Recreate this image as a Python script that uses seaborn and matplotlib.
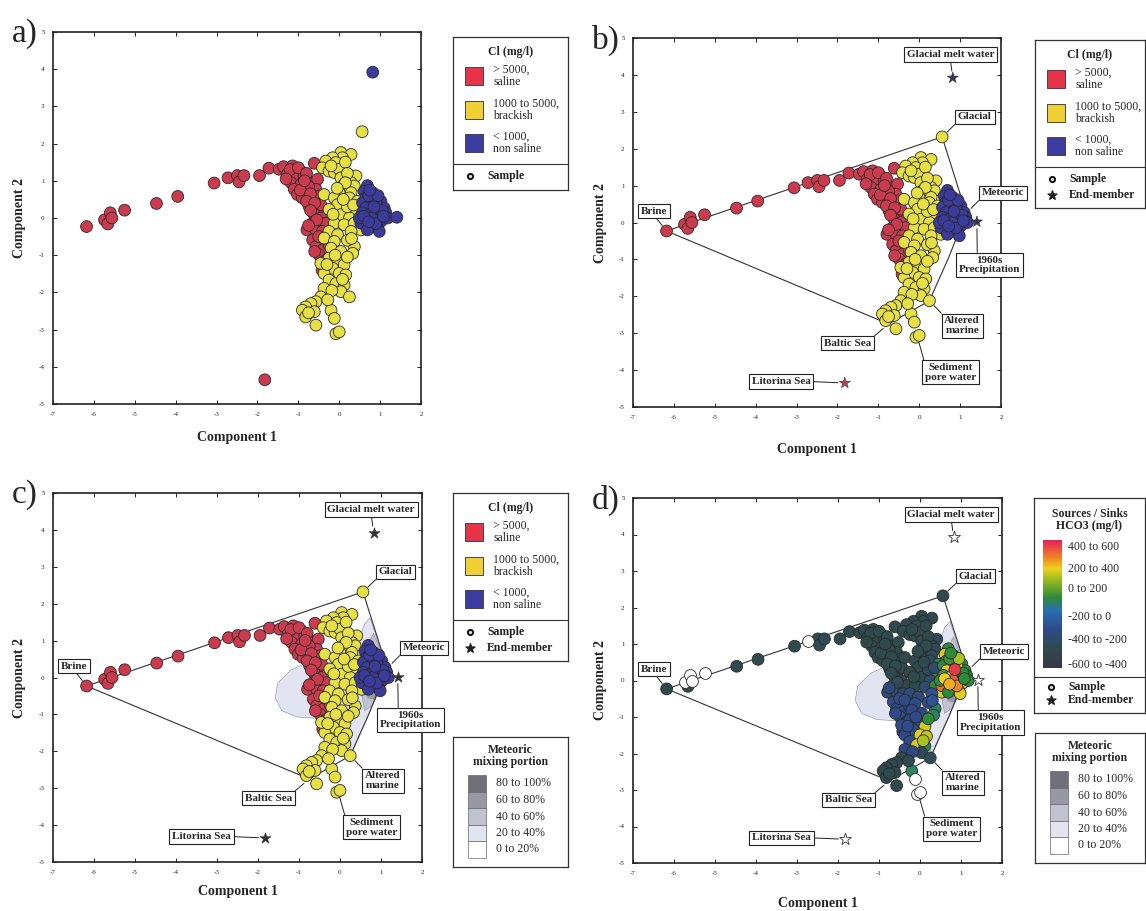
import matplotlib
matplotlib.use("Agg")
import matplotlib.pyplot as plt
import numpy as np
import pandas as pd
import seaborn as sns
from matplotlib.colors import LinearSegmentedColormap
from matplotlib.patches import Rectangle

nan = np.nan

# --- samples, Cl > 5000 (saline) ---
red_x = [-6.18, -5.74, -5.60, -5.66, -5.56, -5.25, -4.47, -3.95, -3.06, -2.72, -2.49, -2.45, -2.33, -1.95, -1.72, -0.61,
         -1.47, -1.36, -1.14, -0.94, -1.27, -1.06, -0.86, -1.18, -0.94, -0.69, -0.53, -1.10, -0.82, -0.57, -1.02, -0.90,
         -0.65, -0.49, -0.74, -0.53, -0.45, -0.61, -0.45, -0.65, -0.33, -0.79, -0.57, -0.41, -0.65, -0.45, -0.57, -0.41,
         -0.49, -0.33, -0.42, -0.25,
         -1.20, -1.00, -0.80, -1.30, -0.75, -0.95, -0.70, -0.80, -0.60, -0.70, -0.55, -0.75, -0.50, -0.60, -0.40, -0.85]
red_y = [-0.23, -0.05, 0.14, -0.16, 0.00, 0.21, 0.39, 0.58, 0.94, 1.08, 1.14, 0.97, 1.14, 1.14, 1.34, 1.47,
         1.31, 1.38, 1.40, 1.26, 1.17, 1.08, 1.13, 0.95, 0.90, 0.95, 1.04, 0.77, 0.72, 0.77, 0.63, 0.54,
         0.50, 0.59, 0.32, 0.27, 0.36, 0.09, 0.00, -0.14, -0.14, -0.32, -0.32, -0.36, -0.59, -0.63, -0.77, -0.86,
         -0.99, -1.13, -1.40, -0.72,
         1.30, 1.35, 1.20, 1.05, 0.85, 0.75, 0.65, 0.45, 0.40, 0.20, -0.05, -0.20, -0.50, -0.90, -1.20, 1.00]
red_hco3 = [-420, nan, nan, -420, nan, nan, -420, -420, -420, nan, -380, -380, -380, -420, -420, -420,
            -420, -420, -420, -420, -420, -420, -420, -420, -420, -420, -420, -420, -420, -420, -420, -420,
            -420, -420, -420, -420, -420, -420, -420, -330, -420, -300, -300, -330, -260, -260, -250, -260,
            -250, -250, -250, -300,
            -420, -420, -420, -420, -420, -420, -420, -420, -420, -420, -380, -300, -260, -250, -250, -420]

# --- samples, Cl 1000 to 5000 (brackish) ---
yel_x = [0.56, 0.04, 0.29, 0.08, -0.16, -0.33, -0.08, -0.41, -0.25, -0.12, 0.00, 0.04, 0.41, 0.29, 0.08, 0.37,
         0.00, 0.29, -0.37, -0.12, 0.25, -0.04, -0.25, 0.41, 0.04, 0.25, -0.12, 0.12, 0.37, 0.53, 0.29, -0.25,
         -0.04, -0.37, -0.12, -0.20, 0.37, 0.33, 0.04, -0.25, -0.04, 0.12, -0.16, -0.37, 0.00, 0.16, -0.25, -0.08,
         0.12, -0.37, 0.04, 0.25, -0.45, -0.57, -0.69, -0.82, -0.90, -0.61, -0.82, -0.20, -0.12, -0.57, -0.08, 0.00,
         -0.45, 0.45, 0.57,
         0.15, -0.20, 0.20, 0.15, -0.05, 0.20, 0.10, -0.15, 0.35, 0.20, -0.10, 0.20, -0.30, 0.08, -0.18, -0.28,
         -0.75, 0.30]
yel_y = [2.32, 1.76, 1.71, 1.62, 1.62, 1.53, 1.49, 1.35, 1.26, 1.22, 1.31, 1.08, 1.13, 0.95, 0.86, 0.86,
         0.68, 0.68, 0.63, 0.54, 0.54, 0.36, 0.23, 0.18, 0.09, 0.00, -0.14, -0.18, -0.14, -0.32, -0.36, -0.36,
         -0.45, -0.54, -0.63, -0.81, -0.77, -0.95, -0.90, -1.08, -1.13, -1.26, -1.35, -1.49, -1.49, -1.53, -1.67, -1.76,
         -1.80, -1.89, -1.98, -2.12, -2.12, -2.25, -2.30, -2.39, -2.48, -2.52, -2.66, -2.48, -2.70, -2.88, -3.11, -3.06,
         -1.22, 0.45, -0.14,
         1.50, 1.40, 1.20, 0.95, 0.80, 0.30, 0.50, 0.10, 0.35, -0.60, -1.00, -1.05, -1.25, -1.65, -1.95, -2.20,
         -2.55, -0.55]
yel_hco3 = [-420, -420, -420, -420, -420, -420, -420, -420, -420, -420, -420, -420, -380, -380, -420, -380,
            -420, -380, -420, -420, -360, -420, -420, 80, -420, -300, -420, -330, 60, 300, -200, -300,
            -300, -260, -250, -250, 20, 20, -250, -250, -230, 300, -230, -250, 320, 280, -250, 300,
            40, -280, -380, -380, -420, -420, -420, -420, -420, -420, -420, 20, nan, -420, nan, nan,
            -250, 60, 330,
            -420, -420, -420, -420, -420, -380, -420, -420, -330, -230, -250, 60, -250, 250, -280, -400,
            -420, -200]

# --- samples, Cl < 1000 (non saline) ---
blu_x = [0.69, 0.61, 0.82, 0.65, 0.86, 1.02, 0.57, 0.78, 0.94, 1.10, 0.65, 0.86, 0.57, 0.74, 0.98, 1.14,
         0.65, 0.86, 1.02, 0.53, 0.78, 0.94, 0.69, 0.98, 0.49, 1.18, 0.90,
         0.72, 0.95, 0.75, 1.05, 0.80, 0.60, 0.90, 1.08, 0.72, 0.85]
blu_y = [0.87, 0.72, 0.68, 0.54, 0.54, 0.45, 0.41, 0.41, 0.32, 0.27, 0.27, 0.23, 0.14, 0.09, 0.09, 0.14,
         -0.05, -0.05, -0.09, -0.14, -0.18, -0.27, -0.32, -0.36, 0.00, 0.00, 0.41,
         0.60, 0.60, 0.75, 0.20, 0.00, 0.05, -0.15, 0.05, -0.10, 0.30]
blu_hco3 = [60, 300, 60, 80, 330, 60, 40, 350, 420, 60, 320, 520, 80, 340, 540, 60,
            60, 540, 320, 480, 420, 330, 60, 320, 60, 60, 300,
            80, 250, 60, 60, 500, 330, 440, 60, 380, 560]

# --- end-members that are also single samples ---
em_names = ["Glacial melt water", "Litorina Sea", "1960s\nPrecipitation"]
em_x = [0.82, -1.82, 1.41]
em_y = [3.92, -4.35, 0.02]
em_cl = ["non saline", "saline", "non saline"]

# --- mixing model end-members (labels) ---
mix_names = ["Brine", "Glacial", "Meteoric", "Altered\nmarine", "Sediment\npore water", "Baltic Sea"]
mix_x = [-6.18, 0.56, 1.15, 0.25, -0.05, -0.75]
mix_y = [-0.23, 2.32, 0.25, -2.12, -3.08, -2.75]

# mixing hull outline
hull_x = [-6.18, 0.56, 1.15, 0.72, 0.25, -0.75, -6.18]
hull_y = [-0.23, 2.32, 0.25, -0.95, -2.12, -2.75, -0.23]

# meteoric mixing portion areas
mix_levels = ["80 to 100%", "60 to 80%", "40 to 60%", "20 to 40%", "0 to 20%"]
area20_x = [0.73, 1.15, 0.72, 0.30, 0.15, 0.02, -0.30, -0.65, -1.05, -1.42, -1.58, -1.52, -1.20, -0.85, -0.40, 0.35, 0.45, 0.60]
area20_y = [1.62, 0.25, -0.95, -2.00, -1.70, -1.15, -1.02, -1.10, -1.07, -0.90, -0.55, -0.15, 0.20, 0.38, 0.42, 0.30, 1.00, 1.45]
area40_x = [0.82, 1.15, 0.80, 0.60, 0.50, 0.55]
area40_y = [1.20, 0.25, -0.75, -0.90, -0.30, 0.60]
area60_x = [0.90, 1.15, 0.86, 0.68, 0.62, 0.70]
area60_y = [0.80, 0.25, -0.60, -0.55, 0.00, 0.50]
area80_x = [1.00, 1.15, 0.95, 0.80, 0.82]
area80_y = [0.55, 0.25, -0.35, -0.20, 0.30]

cl_labels = ["> 5000,\nsaline", "1000 to 5000,\nbrackish", "< 1000,\nnon saline"]
hco3_labels = ["400 to 600", "200 to 400", "0 to 200", "-200 to 0", "-400 to -200", "-600 to -400"]

# ------------------------------------------------------------------
sns.set_style("ticks")
plt.rcParams["font.family"] = ["Liberation Serif", "DejaVu Serif"]
plt.rcParams["axes.unicode_minus"] = False

W, H = 1146, 911
fig = plt.figure(figsize=(W / 100, H / 100), dpi=100)
fig.patch.set_facecolor("white")

cl_pal = {"saline": "#cc3a4e", "brackish": "#e6e044", "non saline": "#3b3b9e"}
cl_box = ["#e8344a", "#f0d034", "#3c3ca0"]
mix_cols = ["#707078", "#9898a4", "#c0c2d0", "#e2e4f2", "#ffffff"]
hco3_cmap = LinearSegmentedColormap.from_list(
    "hco3", [(0.0, "#3a3848"), (0.15, "#2f4a4c"), (0.3, "#2f4a8c"), (0.45, "#2a70b0"),
             (0.55, "#2e8a3a"), (0.7, "#a0c020"), (0.78, "#f0d020"), (0.86, "#f08a20"), (1.0, "#e8205a")])

samples = pd.DataFrame({
    "c1": red_x + yel_x + blu_x,
    "c2": red_y + yel_y + blu_y,
    "cl": ["saline"] * len(red_x) + ["brackish"] * len(yel_x) + ["non saline"] * len(blu_x),
    "hco3": red_hco3 + yel_hco3 + blu_hco3,
})
ends = pd.DataFrame({"c1": em_x, "c2": em_y, "cl": em_cl, "name": em_names})

DOT = 72
TXT = dict(fontsize=8, fontweight="bold")


def px_axes(x0, y0, x1, y1):
    return fig.add_axes([x0 / W, 1 - y1 / H, (x1 - x0) / W, (y1 - y0) / H])


def base_axes(box, letter, xlab_off):
    ax = px_axes(*box)
    ax.set_xlim(-7, 2)
    ax.set_ylim(-5, 5)
    ax.set_xticks(range(-7, 3))
    ax.set_yticks(range(-5, 6))
    ax.tick_params(direction="in", length=3, width=0.7, labelsize=5, top=True, right=True, pad=6, colors="#222")
    for sp in ax.spines.values():
        sp.set_linewidth(1.2)
        sp.set_color("#222")
    fig.text((box[0] - 41) / W, 1 - (box[1] + 2) / H, letter, fontsize=24, ha="left", va="center")
    ax._xlab_off = xlab_off
    return ax


def finish_labels(ax):
    pos = ax.get_position()
    h = pos.height * H
    w = pos.width * W
    ax.set_xlabel("Component 1", fontsize=10, fontweight="bold")
    ax.set_ylabel("Component 2", fontsize=10, fontweight="bold")
    ax.xaxis.set_label_coords(0.5, -ax._xlab_off / h)
    ax.xaxis.label.set_va("center")
    ax.yaxis.set_label_coords(-33 / w, 0.5)
    ax.yaxis.label.set_va("center")


def draw_areas(ax):
    for xs, ys, col in [(area20_x, area20_y, mix_cols[3]), (area40_x, area40_y, mix_cols[2]),
                        (area60_x, area60_y, mix_cols[1]), (area80_x, area80_y, mix_cols[0])]:
        ax.fill(xs, ys, facecolor=col, edgecolor="#8a8ca0", linewidth=0.4, zorder=1)


def draw_hull(ax):
    ax.plot(hull_x, hull_y, color="#333", linewidth=0.8, zorder=2)


def annotate(ax):
    pos = {"Glacial melt water": ((0.76, 4.55), (0.5, 0)),
           "Litorina Sea": ((-3.38, -4.31), (1, 0.5)),
           "1960s\nPrecipitation": ((1.72, -1.15), (0.3, 1)),
           "Brine": ((-6.48, 0.31), (0.5, 0)),
           "Glacial": ((1.36, 2.86), (0, 0)),
           "Meteoric": ((2.05, 0.8), (0, 0)),
           "Altered\nmarine": ((1.05, -2.8), (0, 1)),
           "Sediment\npore water": ((0.76, -4.06), (0, 1)),
           "Baltic Sea": ((-1.75, -3.27), (1, 1))}
    names = em_names + mix_names
    xs = em_x + mix_x
    ys = em_y + mix_y
    for n, x, y in zip(names, xs, ys):
        xt, rp = pos[n]
        ax.annotate(n, xy=(x, y), xytext=xt, ha="center", va="center", linespacing=1.1,
                    annotation_clip=False, zorder=6,
                    bbox=dict(boxstyle="square,pad=0.25", fc="white", ec="#222", lw=0.8),
                    arrowprops=dict(arrowstyle="-", color="#222", lw=0.7, relpos=rp,
                                    shrinkA=0, shrinkB=5), **TXT)


def legend_axes(x0, y0, x1, y1):
    lax = px_axes(x0, y0, x1, y1)
    lax.set_xlim(x0, x1)
    lax.set_ylim(y1, y0)
    lax.set_xticks([])
    lax.set_yticks([])
    for sp in lax.spines.values():
        sp.set_linewidth(0.9)
        sp.set_color("#333")
    return lax


def symbol_rows(lax, x0, x1, ysep, rows):
    lax.plot([x0, x1], [ysep, ysep], color="#333", lw=0.8)
    for label, y in rows:
        if label == "Sample":
            lax.scatter([x0 + 17], [y], s=14, marker="o", facecolor="#ddd", edgecolor="#111", linewidths=1.4)
        else:
            lax.scatter([x0 + 17], [y], s=45, marker="*", facecolor="#222", edgecolor="#222")
        lax.text(x0 + 34, y, label, fontsize=8.5, fontweight="bold", va="center", color="#222")


def cl_legend(x0, y0, x1, with_em):
    y1 = y0 + (168 if with_em else 153)
    lax = legend_axes(x0, y0, x1, y1)
    lax.text((x0 + x1) / 2, y0 + 15, "Cl (mg/l)", fontsize=8.5, fontweight="bold", ha="center", va="center")
    for i, (lab, col) in enumerate(zip(cl_labels, cl_box)):
        yc = y0 + [39, 73, 106][i]
        lax.add_patch(Rectangle((x0 + 12, yc - 9), 18, 18, facecolor=col, edgecolor="#444", lw=0.7))
        lax.text(x0 + 40, yc, lab, fontsize=8.5, va="center", linespacing=1.05)
    rows = [("Sample", y0 + 139)]
    if with_em:
        rows.append(("End-member", y0 + 155))
    symbol_rows(lax, x0, x1, y0 + 127, rows)


def mix_legend(x0, y0, x1):
    lax = legend_axes(x0, y0, x1, y0 + 130)
    lax.text((x0 + x1) / 2, y0 + 19, "Meteoric\nmixing portion", fontsize=8.5, fontweight="bold",
             ha="center", va="center", linespacing=1.1)
    for i, (lab, col) in enumerate(zip(mix_levels, mix_cols)):
        yt = y0 + 38 + i * 16.5
        lax.add_patch(Rectangle((x0 + 15, yt), 18, 16.5, facecolor=col, edgecolor="#666", lw=0.5))
        lax.text(x0 + 43, yt + 8.5, lab, fontsize=8.5, va="center")


def hco3_legend(x0, y0, x1):
    lax = legend_axes(x0, y0, x1, y0 + 215)
    lax.text((x0 + x1) / 2, y0 + 22, "Sources / Sinks\nHCO3 (mg/l)", fontsize=8.5, fontweight="bold",
             ha="center", va="center", linespacing=1.1)
    grad = np.linspace(600, -600, 200)[:, None]
    lax.imshow(grad, extent=(x0 + 9, x0 + 28, y0 + 170, y0 + 42), cmap=hco3_cmap, vmin=-600, vmax=600,
               aspect="auto", origin="upper")
    lax.set_xlim(x0, x1)
    lax.set_ylim(y0 + 215, y0)
    for lab, dy in zip(hco3_labels, [49, 71, 91, 119, 142, 167]):
        lax.text(x0 + 34, y0 + dy, lab, fontsize=8.5, va="center")
    symbol_rows(lax, x0, x1, y0 + 179, [("Sample", y0 + 189), ("End-member", y0 + 202)])


def scatter_cl(ax):
    sns.scatterplot(data=samples, x="c1", y="c2", hue="cl", palette=cl_pal, s=DOT, edgecolor="#2a2a2a",
                    linewidth=0.6, legend=False, ax=ax, zorder=3)


# a) samples only
ax_a = base_axes((53, 32, 421, 404), "a)", 33)
scatter_cl(ax_a)
sns.scatterplot(data=ends, x="c1", y="c2", hue="cl", palette=cl_pal, s=DOT, edgecolor="#2a2a2a",
                linewidth=0.6, legend=False, ax=ax_a, zorder=3)
cl_legend(453, 37, 568, False)

# b) with mixing model
ax_b = base_axes((633, 38, 1001, 407), "b)", 42)
draw_hull(ax_b)
scatter_cl(ax_b)
sns.scatterplot(data=ends, x="c1", y="c2", hue="cl", palette={"saline": "#c04050", "non saline": "#34345a"},
                marker="*", s=70, edgecolor="#333", linewidth=0.4, legend=False, ax=ax_b, zorder=4)
annotate(ax_b)
cl_legend(1035, 40, 1145, True)

# c) with meteoric mixing portion
ax_c = base_axes((53, 493, 422, 862), "c)", 30)
draw_areas(ax_c)
draw_hull(ax_c)
scatter_cl(ax_c)
sns.scatterplot(data=ends, x="c1", y="c2", color="#333", marker="*", s=70, edgecolor="#333",
                linewidth=0.4, legend=False, ax=ax_c, zorder=4)
annotate(ax_c)
cl_legend(453, 493, 568, True)
mix_legend(453, 737, 568)

# d) HCO3 sources / sinks
ax_d = base_axes((633, 498, 1002, 863), "d)", 40)
draw_areas(ax_d)
draw_hull(ax_d)
known = samples.dropna(subset=["hco3"])
missing = samples[samples["hco3"].isna()]
sns.scatterplot(data=known, x="c1", y="c2", hue="hco3", palette=hco3_cmap, hue_norm=(-600, 600), s=DOT,
                edgecolor="#2a2a2a", linewidth=0.6, legend=False, ax=ax_d, zorder=3)
sns.scatterplot(data=missing, x="c1", y="c2", color="white", s=DOT, edgecolor="#2a2a2a",
                linewidth=0.6, legend=False, ax=ax_d, zorder=3)
sns.scatterplot(data=ends, x="c1", y="c2", color="white", marker="*", s=80, edgecolor="#333",
                linewidth=0.6, legend=False, ax=ax_d, zorder=4)
annotate(ax_d)
hco3_legend(1034, 498, 1145)
mix_legend(1035, 733, 1145)

for ax in (ax_a, ax_b, ax_c, ax_d):
    finish_labels(ax)

fig.savefig("out.png", dpi=100, facecolor="white")
